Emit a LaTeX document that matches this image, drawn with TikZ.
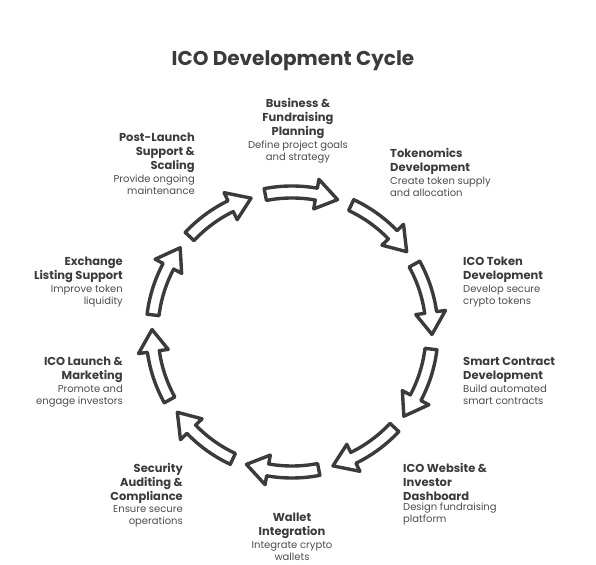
\documentclass[tikz,border=0pt]{standalone}
\usepackage{fontspec}
\setmainfont{Poppins}
\usetikzlibrary{positioning}
\definecolor{ink}{HTML}{3B3B3B}
\definecolor{soft}{HTML}{4D4D4D}
\tikzset{
  arw/.style={draw=ink, line width=3.4pt, fill=white, line join=round},
  ttl/.style={font=\bfseries\fontsize{11.5}{14}\selectfont, text=ink, inner sep=0pt},
  dsc/.style={font=\fontsize{10}{12}\selectfont, text=soft, inner sep=0pt},
}

\begin{document}
\begin{tikzpicture}[x=1pt,y=1pt]
                \useasboundingbox (0,0) rectangle (596,564);
                \node[font=\bfseries\fontsize{20}{24}\selectfont, text=ink] (title) at (293,503) {ICO Development Cycle};
                % ring of arrows, clockwise
                \begin{scope}[shift={(292,232)}]
                \foreach \k in {0,...,9}
                {
                    \pgfmathsetmacro{\s}{101-36*\k}
                    \pgfmathsetmacro{\h}{\s-21}
                    \pgfmathsetmacro{\e}{\s-30}
                    \draw[arw] (\s:146pt) arc[start angle=\s, end angle=\h, radius=146pt] -- (\h:155pt) -- (\e:140pt) -- (\h:125pt) -- (\h:134pt) arc[start angle=\h, end angle=\s, radius=134pt] -- cycle;
                }
                \end{scope}
                % labels
                \node[ttl, align=center, anchor=north] (biz) at (298,466) {Business \&\\Fundraising\\Planning};
                \node[dsc, align=center, below=2pt of biz] (bizd) {Define project goals\\and strategy};
                \node[ttl, align=left, anchor=north west] (tok) at (390,416) {Tokenomics\\Development};
                \node[dsc, align=left, below=2pt of tok.south west, anchor=north west] (tokd) {Create token supply\\and allocation};
                \node[ttl, align=left, anchor=north west] (tkn) at (463,307) {ICO Token\\Development};
                \node[dsc, align=left, below=2pt of tkn.south west, anchor=north west] (tknd) {Develop secure\\crypto tokens};
                \node[ttl, align=left, anchor=north west] (smc) at (463,207) {Smart Contract\\Development};
                \node[dsc, align=left, below=2pt of smc.south west, anchor=north west] (smcd) {Build automated\\smart contracts};
                \node[ttl, align=left, anchor=north west] (web) at (403,101) {ICO Website \&\\Investor\\Dashboard};
                \node[dsc, align=left, below=2pt of web.south west, anchor=north west] (webd) {Design fundraising\\platform};
                \node[ttl, align=center, anchor=north] (wal) at (292,51) {Wallet\\Integration};
                \node[dsc, align=center, below=2pt of wal] (wald) {Integrate crypto\\wallets};
                \node[ttl, align=right, anchor=north east] (sec) at (183,101) {Security\\Auditing \&\\Compliance};
                \node[dsc, align=right, below=2pt of sec.south east, anchor=north east] (secd) {Ensure secure\\operations};
                \node[ttl, align=right, anchor=north east] (lch) at (123,207) {ICO Launch \&\\Marketing};
                \node[dsc, align=right, below=2pt of lch.south east, anchor=north east] (lchd) {Promote and\\engage investors};
                \node[ttl, align=right, anchor=north east] (exc) at (123,307) {Exchange\\Listing Support};
                \node[dsc, align=right, below=2pt of exc.south east, anchor=north east] (excd) {Improve token\\liquidity};
                \node[ttl, align=right, anchor=north east] (pst) at (195,431) {Post-Launch\\Support \&\\Scaling};
                \node[dsc, align=right, below=2pt of pst.south east, anchor=north east] (pstd) {Provide ongoing\\maintenance};
            \end{tikzpicture}
\end{document}
